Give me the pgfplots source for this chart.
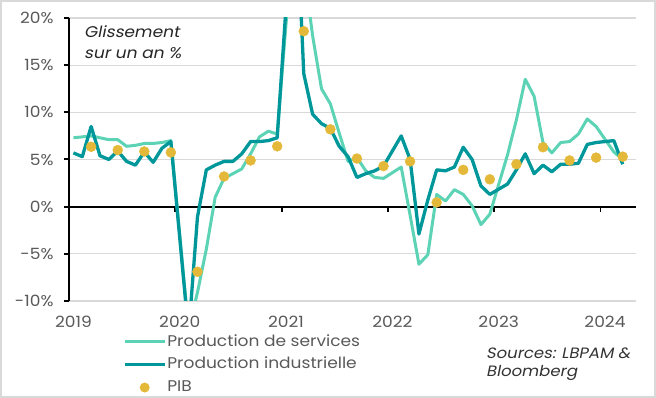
\documentclass[border=0pt]{standalone}
\usepackage{pgfplots}
\pgfplotsset{compat=1.18}
\usepackage{fontspec}
\setmainfont{Poppins}[FakeStretch=1.1]
\newfontfamily\itfont[FakeSlant=0.2, FakeStretch=1.1]{Poppins}
\definecolor{serv}{HTML}{5DD3B6}
\definecolor{indus}{HTML}{00979A}
\definecolor{pib}{HTML}{E4B93A}
\definecolor{txt}{HTML}{595959}
\definecolor{gridc}{HTML}{D9D9D9}
\newcommand{\ft}{\fontsize{15.5}{18}\selectfont}
\begin{document}
\begin{tikzpicture}[x=1pt,y=1pt]
\useasboundingbox (-69,-97) rectangle (587,301);
\draw[gridc, line width=2pt] (-68,-96) rectangle (586,300);
\begin{axis}[
  at={(0,0)}, anchor=south west,
  scale only axis, width=567pt, height=283pt,
  xmin=-0.5, xmax=63.5, ymin=-10, ymax=20,
  axis y line*=left, axis x line*=bottom,
  x axis line style={draw=none},
  y axis line style={-, black, line width=2.2pt},
  xtick={0,12,24,36,48,60},
  xticklabels={2019,2020,2021,2022,2023,2024},
  xtick style={draw=none},
  xticklabel style={yshift=-6.5pt},
  ytick={-10,-5,0,5,10,15,20},
  yticklabels={-10\%,-5\%,0\%,5\%,10\%,15\%,20\%},
  yticklabel style={xshift=-7pt},
  tick label style={font=\ft, text=txt},
  ytick style={black, line width=2pt},
  tick align=outside, major tick length=5pt,
  ymajorgrids, grid style={gridc, line width=1.3pt},
  legend style={at={(axis description cs:0.0950,-0.113)}, anchor=north west,
    draw=none, fill=none, font=\ft, text=txt, inner sep=0pt, row sep=5.3pt,
    nodes={inner sep=1pt, text height=12pt, text depth=3.5pt}},
  legend cell align=left,
]
\draw[black, line width=2.2pt] (axis cs:-0.5,0) -- (axis cs:63.5,0);
\pgfplotsinvokeforeach{11.5,23.5,35.5,47.5,59.5}{
  \draw[black, line width=1.8pt] (axis cs:#1,0) -- (axis cs:#1,-0.6);
}
\addplot[serv, line width=3pt, line join=round,
  legend image code/.code={\draw[serv, line width=3pt] (0pt,0pt) -- (40pt,0pt);}]
coordinates {
(0,7.3)(1,7.4)(2,7.5)(3,7.3)(4,7.1)(5,7.1)(6,6.4)(7,6.5)(8,6.7)(9,6.7)(10,6.8)(11,7.0)
(13,-13.0)(14,-9.1)(15,-4.5)(16,1.0)(17,3.0)(18,3.5)(19,4.0)(20,5.6)(21,7.4)(22,8.0)(23,7.7)
(25,31.1)(26,25.3)(27,18.1)(28,12.5)(29,10.9)(30,7.8)(31,4.8)(32,5.2)(33,3.8)(34,3.1)(35,3.0)
(37,4.2)(38,-0.9)(39,-6.1)(40,-5.1)(41,1.3)(42,0.6)(43,1.8)(44,1.3)(45,0.1)(46,-1.9)(47,-0.8)
(49,5.5)(50,9.2)(51,13.5)(52,11.7)(53,6.8)(54,5.7)(55,6.8)(56,6.9)(57,7.7)(58,9.3)(59,8.5)
(61,5.8)(62,5.0)
};
\addlegendentry{Production de services}
\addplot[indus, line width=3.3pt, line join=round,
  legend image code/.code={\draw[indus, line width=3.3pt] (0pt,0pt) -- (40pt,0pt);}]
coordinates {
(0,5.7)(1,5.3)(2,8.5)(3,5.4)(4,5.0)(5,5.9)(6,4.8)(7,4.4)(8,5.8)(9,4.7)(10,6.2)(11,6.9)
(13,-13.5)(14,-1.1)(15,3.9)(16,4.4)(17,4.8)(18,4.8)(19,5.6)(20,6.9)(21,6.9)(22,7.0)(23,7.3)
(25,35.1)(26,14.1)(27,9.8)(28,8.8)(29,8.3)(30,6.4)(31,5.3)(32,3.1)(33,3.5)(34,3.8)(35,4.3)
(37,7.5)(38,5.0)(39,-2.9)(40,0.7)(41,3.9)(42,3.8)(43,4.2)(44,6.3)(45,5.0)(46,2.2)(47,1.3)
(49,2.4)(50,3.9)(51,5.6)(52,3.5)(53,4.4)(54,3.7)(55,4.5)(56,4.5)(57,4.6)(58,6.6)(59,6.8)
(61,7.0)(62,4.5)
};
\addlegendentry{Production industrielle}
\addplot[color=pib, only marks, mark=*, mark size=5pt, line width=0.4pt,
  mark options={solid, fill=pib, draw=pib},
  legend image code/.code={\path[draw=none] (0pt,0pt) -- (40pt,0pt); \fill[pib, draw=none] (20pt,0pt) circle (5pt);}]
coordinates {
(2,6.35)(5,6.0)(8,5.85)(11,5.75)(14,-6.9)(17,3.2)(20,4.9)(23,6.4)(26,18.6)(29,8.2)(32,5.1)
(35,4.3)(38,4.8)(41,0.45)(44,3.9)(47,2.9)(50,4.5)(53,6.3)(56,4.9)(59,5.2)(62,5.3)
};
\addlegendentry{PIB}
\end{axis}
\node[anchor=north west, align=left, font=\itfont\fontsize{15.5}{21}\selectfont, text=black!85, inner sep=0pt] at (15,275.5)
  {Glissement\\sur un an \%};
\node[anchor=north west, align=left, font=\itfont\fontsize{15}{18}\selectfont, text=black!80, inner sep=0pt] at (417,-47)
  {Sources: LBPAM \&\\Bloomberg};
\end{tikzpicture}
\end{document}
